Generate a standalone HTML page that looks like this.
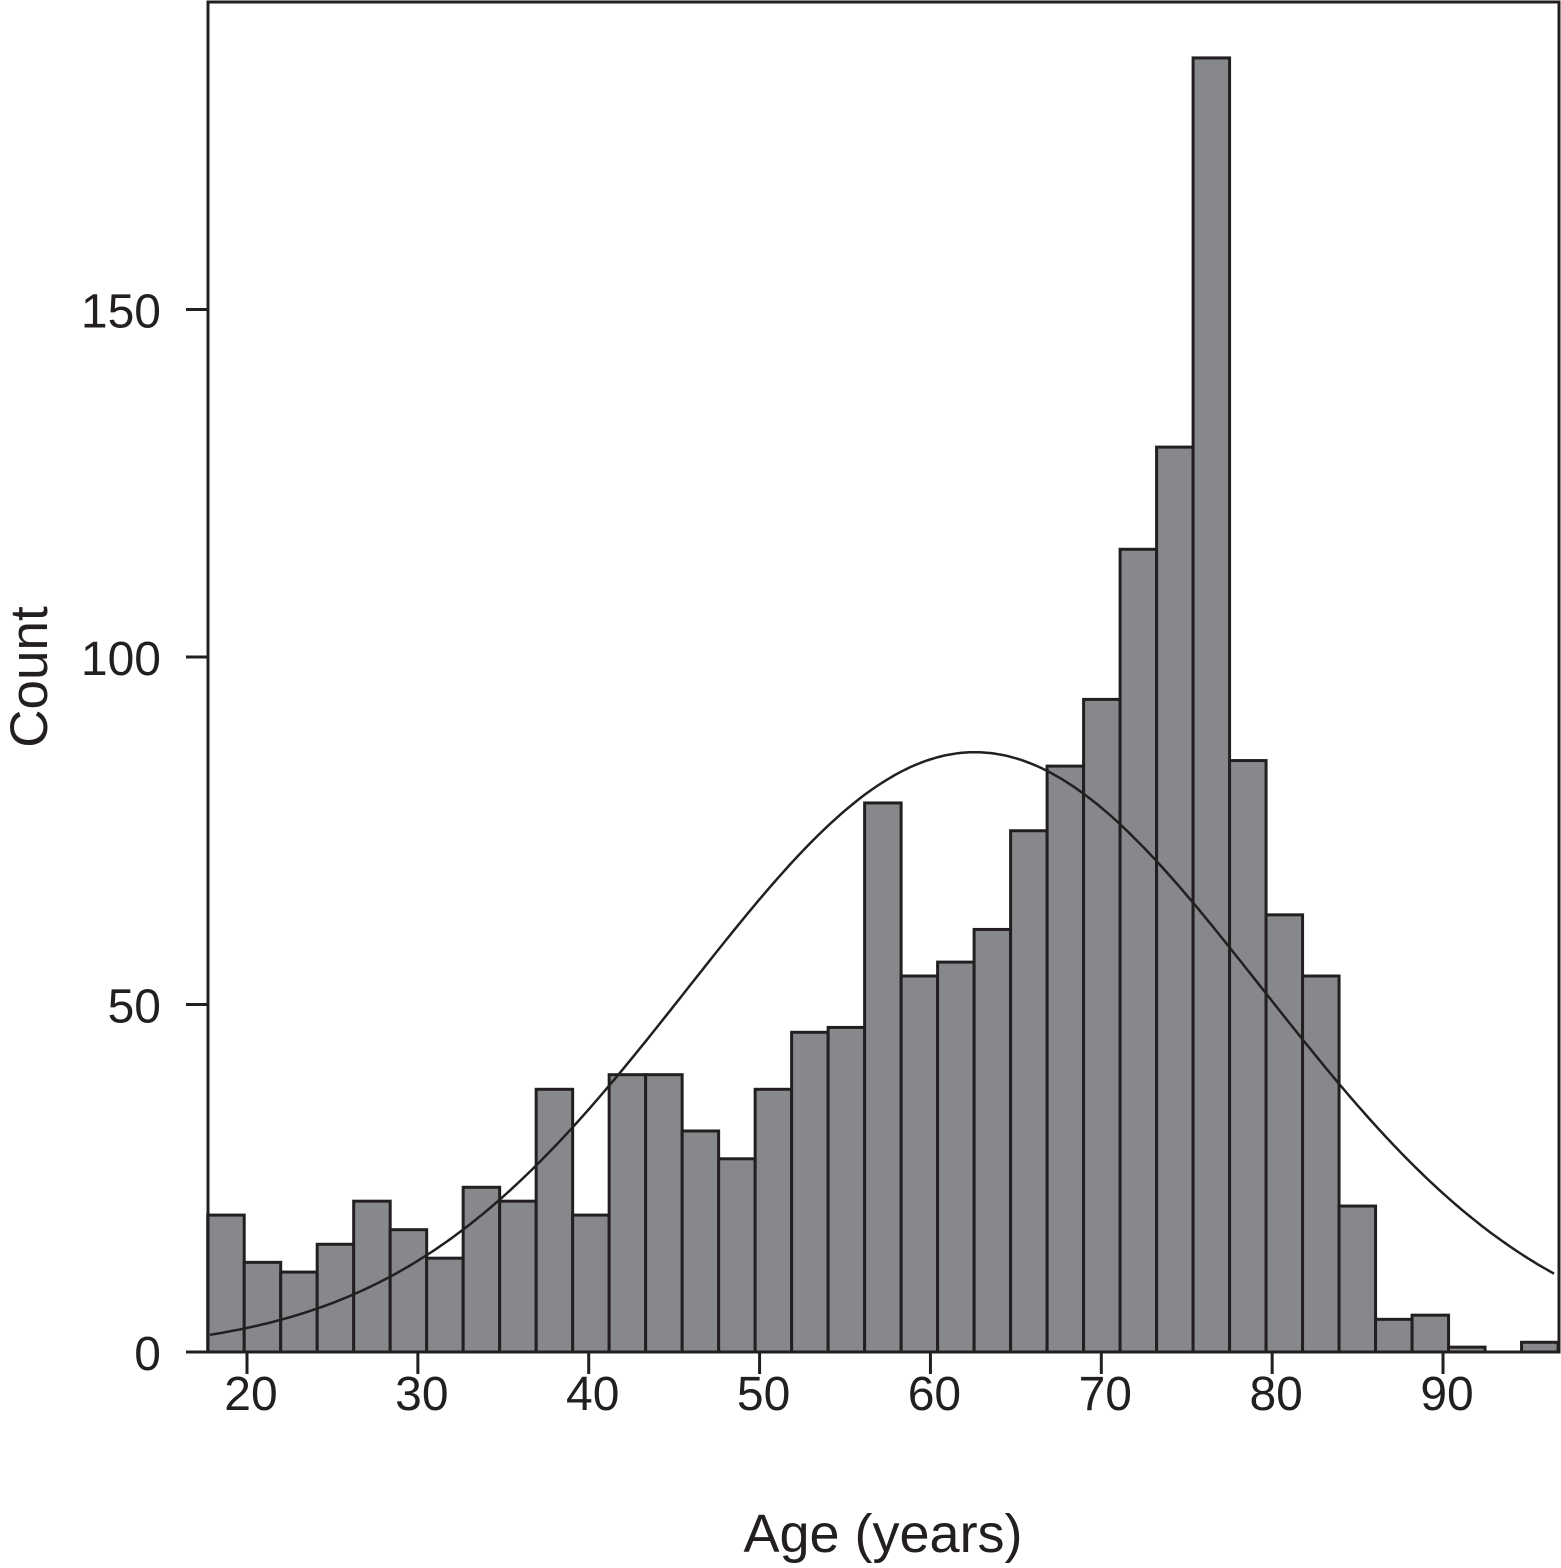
<!DOCTYPE html>
<html><head><meta charset="utf-8"><style>
html,body{margin:0;padding:0;background:#fff;}
svg text{font-family:"Liberation Sans",sans-serif;fill:#231f20;}
</style></head><body>
<svg id="chart" width="1561" height="1563" viewBox="0 0 1561 1563" xmlns="http://www.w3.org/2000/svg">
<g id="bars"></g>
<path id="curve" fill="none" stroke="#231f20" stroke-width="2.5"/>
<rect x="208" y="2" width="1351" height="1350" fill="none" stroke="#231f20" stroke-width="3"/>
<g id="yaxis"></g>
<g id="xaxis"></g>
<text transform="translate(47,677) rotate(-90)" text-anchor="middle" font-size="53">Count</text>
<text x="883" y="1552" text-anchor="middle" font-size="54">Age (years)</text>
</svg>
<script>
const binStart = 17.7;
const binWidth = 2.136;
const counts = [19.7,12.9,11.5,15.5,21.7,17.6,13.5,23.7,21.7,37.8,19.7,39.9,39.9,31.8,27.8,37.8,46,46.7,79,54.1,56.1,60.8,75,84.3,93.9,115.5,130.2,186.2,85.1,62.9,54.1,21,4.7,5.3,0.7,0,1.4];
const xTicks = [20,30,40,50,60,70,80,90];
const yTicks = [0,50,100,150];
const curveMean = [62.6];
const curveSd = [16.8];
const curvePeak = [86.3];

const NS = "http://www.w3.org/2000/svg";
const X0 = 208, X1 = 1559, Y0 = 1352;
const xScale = v => 247 + (v - 20) * 17.086;
const yScale = c => Y0 - c * 6.95;

const bars = document.getElementById('bars');
counts.forEach((c, i) => {
  if (c <= 0) return;
  const r = document.createElementNS(NS, 'rect');
  const xa = xScale(binStart + i * binWidth), xb = xScale(binStart + (i + 1) * binWidth);
  r.setAttribute('x', xa); r.setAttribute('width', xb - xa);
  r.setAttribute('y', yScale(c)); r.setAttribute('height', Y0 - yScale(c));
  r.setAttribute('fill', '#87888c'); r.setAttribute('stroke', '#231f20'); r.setAttribute('stroke-width', '3');
  
  
  bars.appendChild(r);
});

let d = '';
for (let px = X0 + 2; px <= X1 - 2; px += 4) {
  const v = 20 + (px - 247) / 17.086;
  const c = curvePeak[0] * Math.exp(-0.5 * Math.pow((v - curveMean[0]) / curveSd[0], 2));
  d += (d ? 'L' : 'M') + px + ' ' + yScale(c).toFixed(1) + ' ';
}
document.getElementById('curve').setAttribute('d', d);

const ya = document.getElementById('yaxis');
yTicks.forEach(t => {
  const y = yScale(t);
  const l = document.createElementNS(NS, 'line');
  l.setAttribute('x1', 186); l.setAttribute('x2', 208); l.setAttribute('y1', y); l.setAttribute('y2', y);
  l.setAttribute('stroke', '#231f20'); l.setAttribute('stroke-width', '3');
  
  
  ya.appendChild(l);
  const tx = document.createElementNS(NS, 'text');
  tx.setAttribute('x', 161); tx.setAttribute('y', y + 18); tx.setAttribute('text-anchor', 'end'); tx.setAttribute('font-size', '48');
  tx.textContent = t;
  
  
  ya.appendChild(tx);
});
const xa = document.getElementById('xaxis');
xTicks.forEach(t => {
  const x = xScale(t);
  const l = document.createElementNS(NS, 'line');
  l.setAttribute('x1', x); l.setAttribute('x2', x); l.setAttribute('y1', Y0); l.setAttribute('y2', 1374);
  l.setAttribute('stroke', '#231f20'); l.setAttribute('stroke-width', '3');
  
  
  xa.appendChild(l);
  const tx = document.createElementNS(NS, 'text');
  tx.setAttribute('x', x + 4); tx.setAttribute('y', 1410); tx.setAttribute('text-anchor', 'middle'); tx.setAttribute('font-size', '48');
  tx.textContent = t;
  
  
  xa.appendChild(tx);
});
</script>
</body></html>
